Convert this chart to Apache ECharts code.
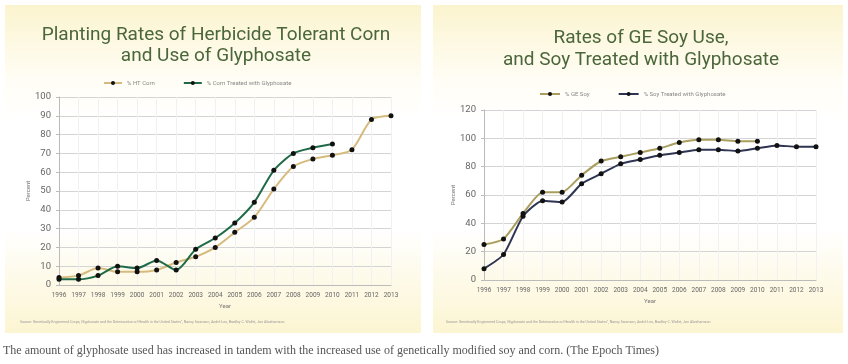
<!DOCTYPE html>
<html>
<head>
<meta charset="utf-8">
<script src="https://cdn.jsdelivr.net/npm/echarts@6/dist/echarts.min.js"></script>
<style>
html,body{margin:0;padding:0;background:#fff;}
#c{width:848px;height:364px;}
</style>
</head>
<body>
<div id="c"></div>
<script>
var years = ['1996','1997','1998','1999','2000','2001','2002','2003','2004','2005','2006','2007','2008','2009','2010','2011','2012','2013'];
var htCorn = [4, 5, 9, 7, 7, 8, 12, 15, 20, 28, 36, 51, 63, 67, 69, 72, 88, 90];
var cornGly = [3, 3, 5, 10, 9, 13, 8, 19, 25, 33, 44, 61, 70, 73, 75];
var geSoy = [25, 29, 47, 62, 62, 74, 84, 87, 90, 93, 97, 99, 99, 98, 98];
var soyGly = [8, 18, 45, 56, 55, 68, 75, 82, 85, 88, 90, 92, 92, 91, 93, 95, 94, 94];
var leftTitle = 'Planting Rates of Herbicide Tolerant Corn\nand Use of Glyphosate';
var rightTitle = 'Rates of GE Soy Use,\nand Soy Treated with Glyphosate';
var sourceText = 'Source: Genetically Engineered Crops, Glyphosate and the Deterioration of Health in the United States", Nancy Swanson, André Leu, Bradley C. Wallet, Jon Abrahamson';
var caption = 'The amount of glyphosate used has increased in tandem with the increased use of genetically modified soy and corn. (The Epoch Times)';

var chart = echarts.init(document.getElementById('c'));
var bgGrad = new echarts.graphic.LinearGradient(0, 0, 0, 1, [
  {offset: 0, color: '#fbf4cf'},
  {offset: 0.22, color: '#fffdf4'},
  {offset: 0.35, color: '#ffffff'},
  {offset: 0.68, color: '#ffffff'},
  {offset: 1, color: '#fcf5d2'}
]);
function xAxis(gi){
  return {type:'category', gridIndex:gi, data:years, boundaryGap:false,
    name:'Year', nameLocation:'middle', nameGap:18,
    nameTextStyle:{fontSize:6, color:'#777', fontFamily:'Roboto'},
    axisLine:{lineStyle:{color:'#bbb'}}, axisTick:{show:false},
    axisLabel:{fontSize:6.5, color:'#666', fontFamily:'Roboto', interval:0, margin:7},
    splitLine:{show:true, lineStyle:{color:'#f1f1f1'}}};
}
function yAxis(gi, max, interval){
  return {type:'value', gridIndex:gi, min:0, max:max, interval:interval,
    name:'Percent', nameLocation:'middle', nameGap:28, nameRotate:90,
    nameTextStyle:{fontSize:6, color:'#777', fontFamily:'Roboto'},
    axisLine:{show:true, lineStyle:{color:'#bbb'}}, axisTick:{show:true, length:3, lineStyle:{color:'#bbb'}},
    axisLabel:{fontSize:9.5, color:'#666', fontFamily:'Roboto', margin:8},
    splitLine:{lineStyle:{color:'#d4d4d4'}}};
}
function lineSeries(name, data, color, gi, smooth){
  return {type:'line', name:name, data:data, xAxisIndex:gi, yAxisIndex:gi,
    smooth:smooth, symbol:'circle', symbolSize:5, showSymbol:true,
    lineStyle:{color:color, width:2}, itemStyle:{color:'#111', borderWidth:0},
    color:color};
}
chart.setOption({
  animation:false,
  textStyle:{fontFamily:'Roboto'},
  graphic:[
    {type:'rect', shape:{x:5, y:5, width:416, height:328}, style:{fill:bgGrad}, z:-10},
    {type:'rect', shape:{x:433, y:5, width:410, height:328}, style:{fill:bgGrad}, z:-10},
    {type:'text', left:20, top:320, style:{text:sourceText, fontSize:3.6, fill:'#999', fontFamily:'Roboto'}},
    {type:'text', left:446, top:320, style:{text:sourceText, fontSize:3.6, fill:'#999', fontFamily:'Roboto'}},
    {type:'text', left:3, top:345, style:{text:caption, fontSize:12, fill:'#555', fontFamily:'Liberation Serif'}}
  ],
  title:[
    {text:leftTitle, left:211, top:20, textAlign:'center',
      textStyle:{fontSize:19, fontWeight:'normal', color:'#4a663a', fontFamily:'Roboto', lineHeight:21}},
    {text:rightTitle, left:636, top:22, textAlign:'center',
      textStyle:{fontSize:19, fontWeight:'normal', color:'#4a663a', fontFamily:'Roboto', lineHeight:22}}
  ],
  legend:[
    {data:['% HT Corn','% Corn Treated with Glyphosate'], left:98, top:75, itemWidth:18, itemHeight:5, itemGap:28,
      textStyle:{fontSize:6, color:'#888'}},
    {data:['% GE Soy','% Soy Treated with Glyphosate'], left:534, top:86, itemWidth:20, itemHeight:5, itemGap:28,
      textStyle:{fontSize:6, color:'#888'}}
  ],
  grid:[
    {left:59, right:457, top:97, bottom:79},
    {left:484, right:32, top:110, bottom:84}
  ],
  xAxis:[xAxis(0), xAxis(1)],
  yAxis:[yAxis(0, 100, 10), yAxis(1, 120, 20)],
  series:[
    lineSeries('% HT Corn', htCorn, '#d6bb7e', 0, 0.25),
    lineSeries('% Corn Treated with Glyphosate', cornGly, '#1f6b49', 0, 0.25),
    lineSeries('% GE Soy', geSoy, '#aa9e5e', 1, 0.2),
    lineSeries('% Soy Treated with Glyphosate', soyGly, '#2e3452', 1, 0.2)
  ]
});
</script>
</body>
</html>
